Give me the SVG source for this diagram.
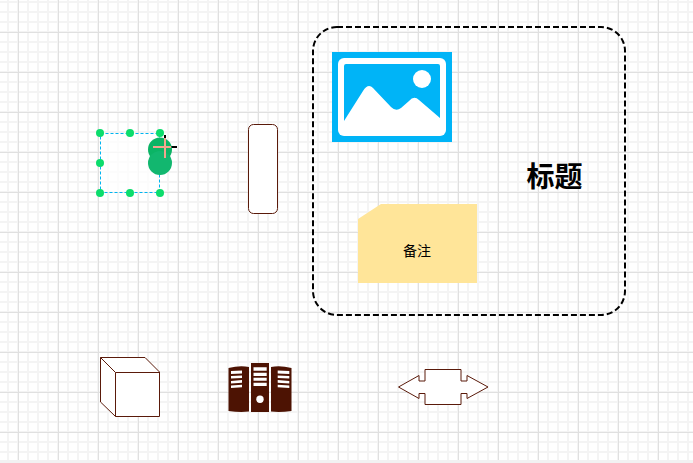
<svg xmlns="http://www.w3.org/2000/svg" width="693" height="463" viewBox="0 0 693 463">
<style>
.s{fill:#fff;stroke:#5a1a0a;stroke-width:1}
.h{fill:#0cdc6c}
text{font-family:"Liberation Sans","Noto Sans CJK SC",sans-serif;fill:#000}
</style>
<defs>
<pattern id="minor" width="10" height="10" patternUnits="userSpaceOnUse" x="8" y="2"><path d="M0 0V10M0 0H10M10 0V10M0 10H10" fill="none" stroke="#f4f4f4" stroke-width="2"/></pattern>
<pattern id="major" width="40" height="40" patternUnits="userSpaceOnUse" x="18" y="32"><path d="M.5 0V40M0 .5H40" fill="none" stroke="#e0e0e0" stroke-width="1"/></pattern>
</defs>
<rect width="693" height="463" fill="#fff"/>
<rect width="693" height="460" fill="url(#minor)"/>
<rect width="693" height="460" fill="url(#major)"/>
<rect y="460" width="693" height="3" fill="#f2f2f2"/>
<g id="connectors"></g>
<g id="selected-node">
<rect x="100.500" y="133.500" width="59" height="59" fill="#fff" fill-opacity=".75" stroke="#00b4f0" stroke-dasharray="3 2"/>
<path d="M165 135V147M165 147H177" fill="none" stroke="#000" stroke-width="2"/>
<circle cx="160" cy="149.500" r="12" fill="#0bb465"/>
<circle cx="160" cy="163" r="12" fill="#12b76f"/>
<path d="M153 147H171M165 138V158" fill="none" stroke="#f2a58e" stroke-width="2"/>
<circle class="h" cx="100" cy="133" r="4"/><circle class="h" cx="130" cy="133" r="4"/><circle class="h" cx="160" cy="133" r="4"/>
<circle class="h" cx="100" cy="163" r="4"/>
<circle class="h" cx="100" cy="193" r="4"/><circle class="h" cx="130" cy="193" r="4"/><circle class="h" cx="160" cy="193" r="4"/>
</g>
<g id="rounded-rect"><rect class="s" x="248.500" y="124.500" width="29" height="89" rx="5"/></g>
<g id="container"><rect x="313" y="27" width="312" height="288" rx="24" fill="none" stroke="#000" stroke-width="2" stroke-dasharray="6 3"/></g>
<g id="image">
<rect x="332" y="52" width="120" height="90" fill="#00b4f7"/>
<rect x="338" y="58" width="108" height="78" rx="6" fill="#fff"/>
<path d="M344 121L363 91Q368 83 373 88L391 107Q396 112 401 108L409 101Q414 95 419 100L440 118V66Q440 64 438 64H346Q344 64 344 66Z" fill="#00b4f7"/>
<circle cx="422" cy="79" r="9" fill="#fff"/>
</g>
<g id="title"><text x="554.500" y="187" font-size="28" font-weight="700" text-anchor="middle">标题</text></g>
<g id="note">
<path d="M381 204H477V283H358V219Z" fill="#ffe599"/>
<text x="417" y="256" font-size="14" text-anchor="middle">备注</text>
</g>
<g id="cube">
<path class="s" d="M100.500 357.500H145L159.500 372V416.500H115.500L100.500 402Z"/>
<path d="M100.500 357.500L115.500 372.500H159.500M115.500 372.500V416.500" fill="none" stroke="#5a1a0a"/>
</g>
<g id="server" fill="#4d1303">
<path d="M228.500 368Q240 365 249 367V411.500Q240 412.500 228.500 411Z"/>
<rect x="251" y="363" width="18" height="49"/>
<path d="M271 367Q280 365 291.500 368V411Q280 412.500 271 411.500Z"/>
<g fill="#fff">
<path d="M231 371L242 370.500V373.500L231 374ZM231 376L242 375.500V378L231 378.500ZM231 381L242 380V382.700L231 383.500ZM231 385.500L242 384.700V387.300L231 388Z"/>
<path d="M253.500 367.300H266.700V370.700H253.500ZM253.500 372.700H266.700V376H253.500ZM253.500 377.700H266.700V380.700H253.500ZM253.500 382.700H266.700V386H253.500Z"/>
<path d="M277.700 370.500L289.300 371V374L277.700 373.500ZM277.700 375.500L289.300 376V378.500L277.700 378ZM277.700 380L289.300 381V383.500L277.700 382.700ZM277.700 384.700L289.300 385.500V388L277.700 387.300Z"/>
<circle cx="260" cy="399.300" r="3.700"/>
</g>
</g>
<g id="double-arrow"><path class="s" d="M398.500 387L419 375.500V381H425V369.500H461V381H467V375.500L488 387L467 398.500V393.500H461V404.500H425V393.500H419V398.500Z"/></g>
</svg>
